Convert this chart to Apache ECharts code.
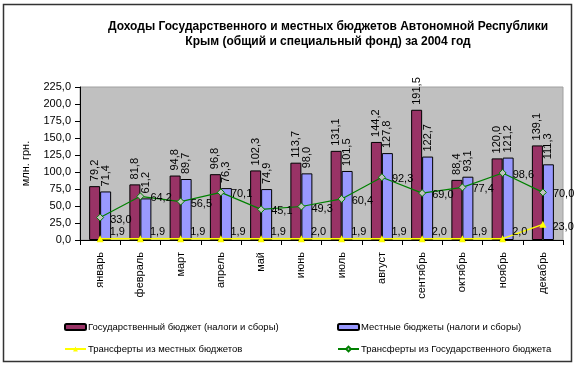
<!DOCTYPE html>
<html><head><meta charset="utf-8">
<script src="https://cdn.jsdelivr.net/npm/echarts@6/dist/echarts.min.js"></script>
<style>html,body{margin:0;padding:0;background:#fff}#c{width:577px;height:368px}</style>
</head><body><div id="c"></div>
<script>
var months = ['январь','февраль','март','апрель','май','июнь','июль','август','сентябрь','октябрь','ноябрь','декабрь'];
var govBudget = [79.2, 81.8, 94.8, 96.8, 102.3, 113.7, 131.1, 144.2, 191.5, 88.4, 120.0, 139.1];
var localBudget = [71.4, 61.2, 89.7, 76.3, 74.9, 98.0, 101.5, 127.8, 122.7, 93.1, 121.2, 111.3];
var transfersLocal = [1.9, 1.9, 1.9, 1.9, 1.9, 2.0, 1.9, 1.9, 2.0, 1.9, 2.0, 23.0];
var transfersGov = [33.0, 64.2, 56.5, 70.1, 45.1, 49.3, 60.4, 92.3, 69.0, 77.4, 98.6, 70.0];
var yTicks = {min: 0, max: 225, interval: 25};
var names = ['Государственный бюджет (налоги и сборы)', 'Местные бюджеты (налоги и сборы)', 'Трансферты из местных бюджетов', 'Трансферты из Государственного бюджета'];

var FONT = 'Liberation Sans';
function fmt(v){ return v.toFixed(1).replace('.', ','); }
var chart = echarts.init(document.getElementById('c'));
var barLabel = {show: true, position: 'top', rotate: 90, align: 'left', verticalAlign: 'middle', distance: 5,
  fontFamily: FONT, fontSize: 11, color: '#000', formatter: function(p){ return fmt(p.value); }};
chart.setOption({
  animation: false,
  textStyle: {fontFamily: FONT},
  title: {text: 'Доходы Государственного и местных бюджетов Автономной Республики\nКрым (общий и специальный фонд) за 2004 год',
    left: 323, top: 14, textAlign: 'center',
    textStyle: {fontFamily: FONT, fontSize: 12, fontWeight: 'bold', color: '#000', lineHeight: 15}},
  graphic: [{type: 'rect', shape: {x: 3.5, y: 4.5, width: 568, height: 357}, style: {fill: 'none', stroke: '#333', lineWidth: 1.5}, silent: true}],
  grid: {left: 80, right: 14, top: 87, bottom: 128, show: true, backgroundColor: '#C0C0C0', borderColor: '#A0A0A0', borderWidth: 1},
  legend: [
    {data: [names[0], names[2]], orient: 'vertical', left: 64, top: 321, padding: 0, itemGap: 10, itemWidth: 21, itemHeight: 6,
      textStyle: {fontFamily: FONT, fontSize: 9.5, color: '#000', padding: [0,0,0,-3], lineHeight: 12}},
    {data: [names[1], names[3]], orient: 'vertical', left: 337, top: 321, padding: 0, itemGap: 10, itemWidth: 21, itemHeight: 6,
      textStyle: {fontFamily: FONT, fontSize: 9.5, color: '#000', padding: [0,0,0,-3], lineHeight: 12}}
  ],
  xAxis: {type: 'category', data: months,
    axisLine: {lineStyle: {color: '#000'}},
    axisTick: {show: true, length: 5, lineStyle: {color: '#000'}},
    axisLabel: {rotate: 90, margin: 12, fontFamily: FONT, fontSize: 11, color: '#000', interval: 0},
    splitLine: {show: false}},
  yAxis: {type: 'value', min: yTicks.min, max: yTicks.max, interval: yTicks.interval,
    name: 'млн. грн.', nameLocation: 'middle', nameGap: 49, nameRotate: 90,
    nameTextStyle: {fontFamily: FONT, fontSize: 11, color: '#000'},
    axisLine: {show: true, lineStyle: {color: '#000'}},
    axisTick: {show: true, length: 5, lineStyle: {color: '#000'}},
    axisLabel: {fontFamily: FONT, fontSize: 11, color: '#000', margin: 9, formatter: function(v){ return fmt(v); }},
    splitLine: {show: false}},
  series: [
    {name: names[0], type: 'bar', data: govBudget, barWidth: 11, barGap: '0%',
      itemStyle: {color: '#993366', borderColor: '#000', borderWidth: 1}, label: barLabel},
    {name: names[1], type: 'bar', data: localBudget, barWidth: 11,
      itemStyle: {color: '#9999FF', borderColor: '#000', borderWidth: 1}, label: barLabel},
    {name: names[2], type: 'line', data: transfersLocal.map(function(v){ return {value: v, label: {offset: v < 10 ? [0, -7] : [0, 3]}}; }),
      symbol: 'triangle', symbolSize: 7,
      lineStyle: {color: '#FFFF00', width: 1.5}, itemStyle: {color: '#FFFF00'},
      label: {show: true, position: 'right', distance: 6, fontFamily: FONT, fontSize: 11, color: '#000', formatter: function(p){ return fmt(p.value); }}},
    {name: names[3], type: 'line', data: transfersGov, symbol: 'diamond', symbolSize: 7, showAllSymbol: true,
      lineStyle: {color: '#008000', width: 1.2}, itemStyle: {color: '#C0C0C0', borderColor: '#008000', borderWidth: 1},
      label: {show: true, position: 'right', distance: 6, offset: [0, 2], fontFamily: FONT, fontSize: 11, color: '#000', formatter: function(p){ return fmt(p.value); }}}
  ]
});
</script></body></html>
